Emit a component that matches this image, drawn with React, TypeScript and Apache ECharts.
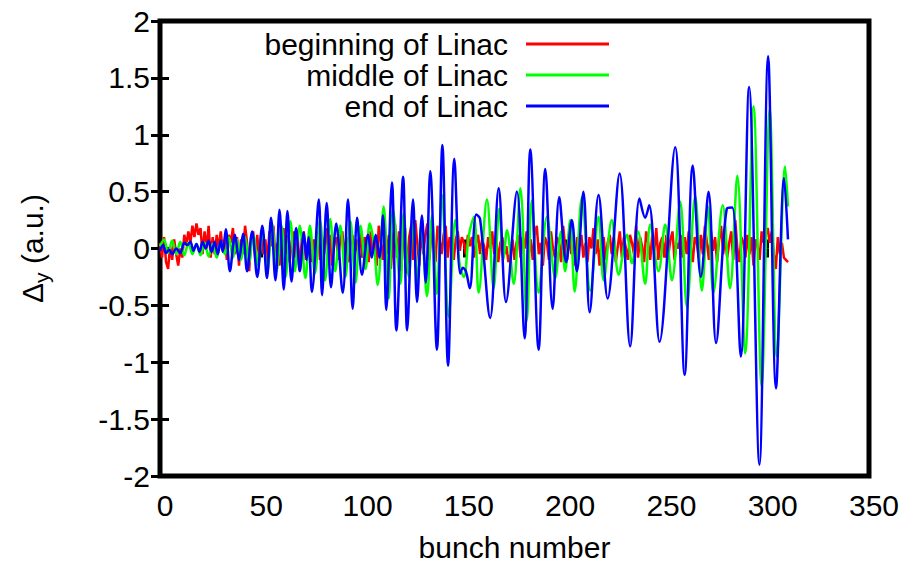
import React, { useEffect, useRef } from 'react';
import * as echarts from 'echarts';

// ---- data ----
const seriesNames = ['beginning of Linac', 'middle of Linac', 'end of Linac'];
const seriesColors = ['#ff0000', '#00ff00', '#0000ff'];

// beginning of Linac: one value per bunch, bunch 0..310
const redY = [
  0.05, -0.08, 0.1, -0.12, -0.18, 0.02, -0.1, 0.08, -0.05, -0.15,
  0.0, -0.08, 0.12, 0.03, 0.15, 0.05, 0.2, 0.1, 0.22, 0.12,
  0.18, -0.05, 0.15, 0.0, 0.2, -0.08, 0.1, -0.05, 0.12, 0.0,
  0.15, -0.02, 0.08, -0.1, 0.12, 0.05, 0.18, -0.05, 0.1, -0.15,
  0.08, -0.05, 0.2, 0.05, -0.2, 0.1, 0.15, -0.08, 0.12, -0.1,
  0.16, -0.05, 0.08, -0.12, 0.15, 0.02, 0.2, -0.1, 0.05, -0.15,
  0.1, 0.18, -0.05, 0.12, -0.12, 0.05, 0.15, -0.08, 0.1, -0.2,
  0.08, 0.15, -0.1, 0.05, 0.12, -0.12, 0.08, -0.05, 0.15, -0.1,
  0.1, -0.05, 0.18, -0.02, 0.12, -0.15, 0.05, 0.1, -0.1, 0.08,
  0.15, -0.08, 0.1, -0.12, 0.05, 0.12, -0.1, 0.08, -0.05, 0.15,
  -0.08, 0.1, 0.02, -0.12, 0.15, -0.05, 0.08, -0.15, 0.2, 0.05,
  -0.1, 0.18, -0.05, 0.12, -0.18, 0.1, 0.22, -0.08, 0.15, -0.2,
  0.05, 0.18, -0.22, 0.1, 0.2, -0.1, 0.25, 0.05, -0.15, 0.18,
  -0.05, 0.12, 0.22, -0.1, 0.15, 0.05, -0.12, 0.2, 0.08, -0.05,
  0.12, 0.2, -0.08, 0.1, 0.05, -0.1, 0.08, 0.15, -0.02, 0.1,
  0.05, -0.05, 0.12, 0.02, 0.1, -0.08, 0.05, 0.12, -0.05, 0.08,
  0.02, -0.1, 0.1, 0.0, 0.15, -0.05, 0.08, -0.12, 0.05, 0.1,
  -0.05, 0.02, -0.12, -0.05, 0.08, -0.1, 0.05, 0.12, -0.08, 0.1,
  0.0, 0.15, -0.05, 0.08, -0.1, 0.12, 0.2, -0.05, 0.05, -0.15,
  0.1, 0.05, -0.1, 0.15, 0.0, -0.08, 0.1, 0.05, -0.12, 0.2,
  0.02, -0.1, 0.15, -0.05, 0.08, -0.15, 0.1, 0.02, 0.12, -0.08,
  0.05, -0.12, 0.1, 0.0, 0.18, -0.05, 0.08, -0.15, 0.05, 0.1,
  -0.1, 0.05, 0.12, -0.05, 0.1, -0.12, 0.02, 0.15, -0.08, 0.1,
  0.0, -0.1, 0.12, 0.05, -0.05, 0.2, -0.08, 0.1, 0.02, -0.12,
  0.15, 0.05, -0.1, 0.12, -0.02, 0.18, -0.1, 0.05, 0.1, -0.08,
  0.12, -0.05, 0.08, 0.15, -0.1, 0.05, 0.0, 0.12, -0.08, 0.1,
  -0.05, 0.15, 0.02, -0.12, 0.1, 0.05, -0.08, 0.12, -0.05, 0.2,
  0.05, -0.1, 0.15, -0.02, 0.1, -0.12, 0.08, 0.2, -0.05, 0.1,
  -0.08, 0.05, 0.15, -0.1, 0.25, 0.0, -0.12, 0.1, 0.05, -0.08,
  0.12, -0.05, 0.1, -0.15, 0.08, 0.02, -0.1, 0.15, 0.05, 0.12,
  0.18, 0.05, 0.15, -0.05, -0.18, 0.1, -0.05, 0.05, -0.08, -0.1, -0.12,
];

// middle of Linac: turning points (bunch, value)
const greenX = [
  0, 2, 4, 6, 8, 10, 12, 14, 16, 18, 20, 22, 24, 26, 28, 30, 32, 34, 36, 38,
  40, 42, 44, 46, 48.5, 50.5, 53, 55.3, 57.5, 60, 62, 64.4, 66.5, 69, 71.8, 74, 76.5, 79, 81.5, 84,
  86.5, 89, 91.5, 94, 96.5, 99, 101.5, 103.5, 105.5, 107.5, 110.4, 112.9, 115, 118.7, 120.3, 122.8, 124.9, 127, 129, 131.8,
  134.3, 136.6, 139.2, 142.5, 145.8, 148, 150, 152.5, 155, 157.3, 161.4, 164.7, 167.5, 169.5, 171.3, 174.6, 177.9, 181.1, 183.5, 186.9,
  191, 195.1, 198, 200, 202.5, 204.7, 208.3, 212.4, 216.5, 219, 223, 226.4, 230.5, 233, 236, 239.5, 242, 246.1, 249.4, 252.7,
  256.8, 260.1, 264.2, 267.5, 270.5, 273.2, 277.8, 281.4, 285, 288.9, 293, 297, 301, 304.5, 308.6, 310,
];
const greenY = [
  0.02, 0.08, -0.04, 0.07, -0.05, 0.06, -0.06, 0.05, -0.05, 0.04, -0.06, 0.05, -0.07, 0.04, -0.08, 0.06, -0.05, 0.1, -0.08, 0.08,
  -0.1, 0.1, -0.12, 0.12, -0.15, 0.15, -0.2, 0.22, -0.2, 0.2, -0.25, 0.24, -0.2, 0.2, -0.26, 0.2, -0.22, 0.25, -0.28, 0.26,
  -0.2, 0.2, -0.25, 0.24, -0.3, 0.2, -0.18, 0.22, 0.05, -0.32, 0.37, -0.44, 0.34, -0.31, 0.31, -0.25, 0.25, -0.3, 0.2, -0.42,
  0.29, -0.4, 0.47, -0.6, 0.25, -0.15, -0.25, 0.12, 0.28, -0.39, 0.43, -0.35, 0.35, -0.1, 0.16, -0.31, 0.53, -0.63, 0.42, -0.39,
  0.28, -0.26, 0.15, -0.2, 0.25, -0.38, 0.45, -0.37, 0.28, -0.28, 0.25, -0.23, 0.12, -0.13, 0.15, -0.31, 0.21, -0.2, 0.21, -0.28,
  0.41, -0.51, 0.46, -0.37, 0.37, -0.39, 0.38, -0.35, 0.64, -0.92, 1.25, -1.21, 1.22, -0.95, 0.72, 0.37,
];

// end of Linac: turning points (bunch, value)
const blueX = [
  0, 1.5, 3, 4.5, 6, 8, 10, 12, 13.5, 15, 16.5, 18, 19.5, 21, 22.5, 24, 25.5, 27, 28.5, 30,
  31, 32.5, 34.5, 37, 39, 41, 43, 45.5, 48, 50.5, 52.8, 54.8, 57, 59, 61.1, 62.9, 64.9, 67.2, 69, 71,
  72.4, 73.3, 75, 78.4, 80, 82.3, 84.4, 87, 90.2, 92.8, 95.1, 97.3, 99.7, 102.7, 104.5, 106.5, 108.3, 110.1, 111.7, 114.5,
  116.7, 120, 122, 124.9, 126.9, 129.3, 131.2, 133.4, 136.7, 139.4, 142.2, 145.3, 148.2, 149.5, 151, 152.9, 156.1, 158, 163, 167.2,
  170.8, 176.2, 180, 182.8, 186.9, 190.2, 193.8, 197.1, 200.5, 203.3, 205.8, 209, 212.1, 216.5, 221, 226.9, 232.1, 236.7, 239.5, 241.5,
  246.6, 254.3, 259, 263, 267, 270.8, 274.5, 279.8, 282.5, 286.7, 290.8, 295.9, 300.2, 304.1, 308.1, 310,
];
const blueY = [
  -0.02, 0.03, -0.04, -0.01, -0.05, 0.0, -0.04, 0.05, 0.03, 0.06, -0.02, 0.04, -0.03, 0.06, 0.0, 0.07, -0.03, 0.06, -0.05, 0.07,
  -0.03, 0.17, -0.2, 0.12, -0.1, 0.13, -0.2, 0.15, -0.25, 0.2, -0.26, 0.27, -0.28, 0.34, -0.36, 0.33, -0.29, 0.18, -0.2, 0.14,
  -0.1, 0.1, -0.38, 0.43, -0.41, 0.4, -0.34, 0.22, -0.39, 0.43, -0.53, 0.27, -0.23, 0.12, -0.08, 0.12, -0.08, 0.29, -0.54, 0.58,
  -0.72, 0.63, -0.72, 0.43, -0.47, 0.29, -0.3, 0.68, -0.89, 0.91, -1.03, 0.79, -0.22, -0.17, -0.2, -0.35, 0.3, 0.26, -0.61, 0.53,
  -0.47, 0.5, -0.79, 0.87, -0.89, 0.7, -0.53, 0.45, -0.12, 0.25, -0.2, 0.5, -0.56, 0.47, -0.44, 0.66, -0.86, 0.44, 0.27, 0.38,
  -0.82, 0.89, -1.11, 0.73, -0.25, 0.5, -0.83, 0.35, 0.36, -0.95, 1.42, -1.9, 1.69, -1.23, 0.62, 0.08,
];

const FONT = '"Liberation Sans", Arial, Helvetica, sans-serif';

export default function App() {
  const ref = useRef<HTMLDivElement>(null);

  useEffect(() => {
    const chart = echarts.init(ref.current!, null, { renderer: 'svg' });

    const tick = { show: true, inside: true, length: 9, lineStyle: { color: '#000', width: 3 } };
    const lineData = [
      redY.map((v, i) => [i, v]),
      greenX.map((x, i) => [x, greenY[i]]),
      blueX.map((x, i) => [x, blueY[i]]),
    ];
    const smoothing = [false, 0.35, 0.35];

    const option: any = {
      animation: false,
      backgroundColor: '#ffffff',
      textStyle: { fontFamily: FONT },
      grid: {
        left: 160, right: 42, top: 21, bottom: 91,
        show: true, borderColor: '#000', borderWidth: 5, backgroundColor: 'transparent',
        outerBoundsMode: 'none',
      },
      legend: {
        orient: 'vertical', align: 'right', right: 302, top: 29, padding: 0, itemGap: 1,
        icon: 'rect', itemWidth: 83, itemHeight: 3,
        textStyle: { fontSize: 30, fontFamily: FONT, color: '#000', lineHeight: 30, padding: [0, 13, 0, 0] },
        data: seriesNames,
      },
      xAxis: [
        {
          type: 'value', min: 0, max: 350, interval: 50, position: 'bottom',
          axisLine: { show: false }, axisTick: tick, splitLine: { show: false },
          axisLabel: { fontSize: 30, color: '#000', fontFamily: FONT, margin: 14, padding: [0, 0, 0, 10] },
          name: 'bunch number', nameLocation: 'middle', nameGap: 56,
          nameTextStyle: { fontSize: 30, color: '#000', fontFamily: FONT },
        },
        {
          type: 'value', min: 0, max: 350, interval: 50, position: 'top',
          axisLine: { show: false }, axisTick: tick, splitLine: { show: false }, axisLabel: { show: false },
        },
      ],
      yAxis: [
        {
          type: 'value', min: -2, max: 2, interval: 0.5, position: 'left',
          axisLine: { show: false }, axisTick: tick, splitLine: { show: false },
          axisLabel: { fontSize: 30, color: '#000', fontFamily: FONT, margin: 10, padding: [4, 0, 0, 0] },
          name: '{a|Δ}{b|y}{a| (a.u.)}', nameLocation: 'middle', nameGap: 108, nameRotate: 90,
          nameTextStyle: {
            color: '#000',
            rich: {
              a: { fontSize: 30, fontFamily: FONT, color: '#000', lineHeight: 40 },
              b: { fontSize: 21, fontFamily: FONT, color: '#000', lineHeight: 22, verticalAlign: 'bottom' },
            },
          },
        },
        {
          type: 'value', min: -2, max: 2, interval: 0.5, position: 'right',
          axisLine: { show: false }, axisTick: tick, splitLine: { show: false }, axisLabel: { show: false },
        },
      ],
      series: seriesNames.map((name, i) => ({
        name,
        type: 'line',
        xAxisIndex: 0,
        yAxisIndex: 0,
        data: lineData[i],
        smooth: smoothing[i],
        showSymbol: false,
        symbol: 'none',
        color: seriesColors[i],
        lineStyle: { color: seriesColors[i], width: 2.5 },
        z: 2 + i,
      })),
    };

    chart.setOption(option);
    return () => chart.dispose();
  }, []);

  return (
    <div
      ref={ref}
      style={{ position: 'fixed', left: 0, top: 0, width: 911, height: 567, background: '#fff' }}
    />
  );
}
